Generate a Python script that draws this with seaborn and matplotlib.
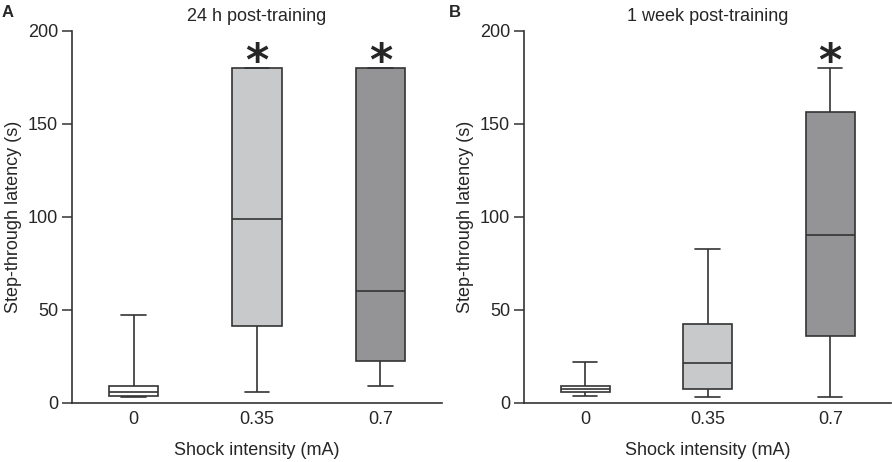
import numpy as np
import pandas as pd
import matplotlib
matplotlib.use("Agg")
import matplotlib.pyplot as plt
import seaborn as sns

# five-number summaries (s)
groups = ["0", "0.35", "0.7"]
colors = ["#ffffff", "#c8c9cb", "#939498"]

h24_low = [3.0, 6.0, 9.0]
h24_q1 = [3.8, 41.4, 22.4]
h24_med = [6.0, 98.8, 60.2]
h24_q3 = [9.1, 180.0, 180.0]
h24_high = [47.3, 180.0, 180.0]

wk_low = [3.8, 3.2, 2.9]
wk_q1 = [5.6, 7.7, 35.9]
wk_med = [7.7, 21.4, 90.4]
wk_q3 = [9.0, 42.3, 156.6]
wk_high = [22.0, 82.5, 180.0]

stars_24h = [False, True, True]
stars_wk = [False, False, True]


def make_frame(low, q1, med, q3, high):
    rows = []
    for g, a, b, c, d, e in zip(groups, low, q1, med, q3, high):
        for v in (a, b, c, d, e):
            rows.append({"shock": g, "latency": v})
    return pd.DataFrame(rows)


sns.set_style("ticks")
plt.rcParams["font.family"] = ["Liberation Sans", "DejaVu Sans"]

fig = plt.figure(figsize=(8.92, 4.62), dpi=100)
ax1 = fig.add_axes([0.0807, 0.128, 0.415, 0.805])
ax2 = fig.add_axes([0.5874, 0.128, 0.412, 0.805])

panels = [
    (ax1, make_frame(h24_low, h24_q1, h24_med, h24_q3, h24_high), "24 h post-training", "A", stars_24h),
    (ax2, make_frame(wk_low, wk_q1, wk_med, wk_q3, wk_high), "1 week post-training", "B", stars_wk),
]

fs = 13
for ax, df, title, letter, stars in panels:
    sns.boxplot(data=df, x="shock", y="latency", hue="shock", order=groups,
                palette=colors, width=0.4, whis=(0, 100), linecolor="#333333",
                linewidth=1.2, legend=False, ax=ax)
    ax.set_xlim(-0.5, 2.5)
    ax.set_ylim(0, 200)
    ax.set_yticks([0, 50, 100, 150, 200])
    ax.tick_params(axis="y", length=7, width=1.1, color="#333333", labelsize=fs, pad=3)
    ax.tick_params(axis="x", length=0, labelsize=fs, pad=6)
    ax.set_xlabel("Shock intensity (mA)", fontsize=fs, labelpad=10)
    ax.set_ylabel("Step-through latency (s)", fontsize=fs, labelpad=4)
    ax.set_title(title, fontsize=fs, pad=7)
    for side in ("left", "bottom"):
        ax.spines[side].set_color("#333333")
        ax.spines[side].set_linewidth(1.2)
    sns.despine(ax=ax)
    for i, s in enumerate(stars):
        if s:
            ax.text(i, 183, "*", ha="center", va="center", fontsize=32,
                    fontweight="bold", family="DejaVu Sans")

fig.text(0.002, 0.99, "A", fontsize=12, fontweight="bold", va="top", ha="left")
fig.text(0.503, 0.99, "B", fontsize=12, fontweight="bold", va="top", ha="left")

fig.savefig("out.png", dpi=100)
